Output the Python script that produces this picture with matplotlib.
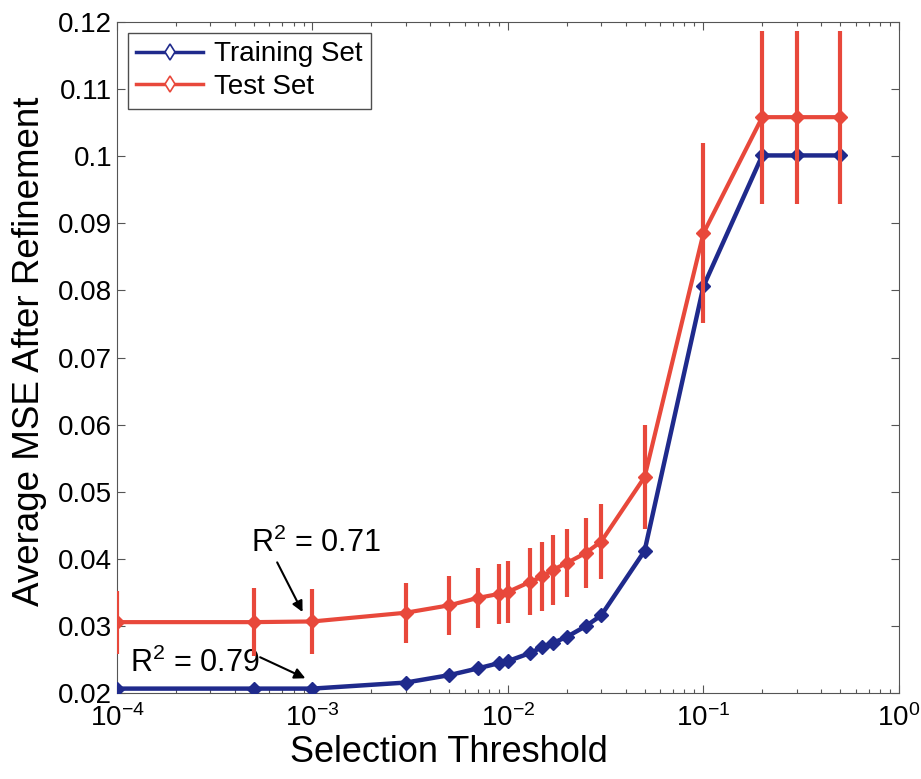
import matplotlib
matplotlib.use("Agg")
import matplotlib.pyplot as plt
from matplotlib.lines import Line2D
from matplotlib.ticker import FixedLocator, LogLocator, NullFormatter

plt.rcParams['font.family'] = ['Liberation Sans', 'DejaVu Sans']
plt.rcParams['mathtext.fontset'] = 'custom'
plt.rcParams['mathtext.rm'] = 'Liberation Sans'
plt.rcParams['mathtext.it'] = 'Liberation Sans'
plt.rcParams['axes.unicode_minus'] = False

thresholds = [1e-4, 5e-4, 1e-3, 3e-3, 5e-3, 7e-3, 9e-3, 1e-2, 1.3e-2, 1.5e-2,
              1.7e-2, 2e-2, 2.5e-2, 3e-2, 5e-2, 1e-1, 2e-1, 3e-1, 5e-1]

train_mse = [0.0207, 0.0207, 0.0207, 0.0216, 0.0227, 0.0237, 0.0245, 0.0248, 0.0260, 0.0269,
             0.0275, 0.0284, 0.0300, 0.0316, 0.0412, 0.0806, 0.1001, 0.1001, 0.1001]
train_err = [0.0004] * len(thresholds)

test_mse = [0.0306, 0.0306, 0.0307, 0.0320, 0.0331, 0.0342, 0.0348, 0.0351, 0.0366, 0.0374,
            0.0384, 0.0394, 0.0409, 0.0426, 0.0522, 0.0885, 0.1058, 0.1058, 0.1058]
test_err = [0.0047, 0.0051, 0.0049, 0.0045, 0.0044, 0.0045, 0.0045, 0.0046, 0.0050, 0.0052,
            0.0052, 0.0051, 0.0052, 0.0056, 0.0077, 0.0134, 0.0129, 0.0129, 0.0129]

y_ticks = [0.02, 0.03, 0.04, 0.05, 0.06, 0.07, 0.08, 0.09, 0.1, 0.11, 0.12]
y_labels = ['0.02', '0.03', '0.04', '0.05', '0.06', '0.07', '0.08', '0.09', '0.1', '0.11', '0.12']
x_ticks = [1e-4, 1e-3, 1e-2, 1e-1, 1e0]
x_labels = [r'$10^{\mathrm{-4}}$', r'$10^{\mathrm{-3}}$', r'$10^{\mathrm{-2}}$',
            r'$10^{\mathrm{-1}}$', r'$10^{0}$']

blue = '#1f2a8c'
red = '#e8483b'

fig = plt.figure(figsize=(9.21, 7.79), dpi=100)
ax = fig.add_axes([0.127, 0.110, 0.849, 0.862])

ax.errorbar(thresholds, train_mse, yerr=train_err, color=blue, lw=3.2, marker='D',
            ms=7.5, mfc=blue, mec=blue, elinewidth=2.5, capsize=0, zorder=3)
ax.errorbar(thresholds, test_mse, yerr=test_err, color=red, lw=3, marker='D',
            ms=7.5, mfc=red, mec=red, elinewidth=3, capsize=0, zorder=4)

ax.set_xscale('log')
ax.set_xlim(1e-4, 1e0)
ax.set_ylim(0.02, 0.12)
ax.xaxis.set_major_locator(FixedLocator(x_ticks))
ax.set_xticklabels(x_labels)
ax.xaxis.set_minor_locator(LogLocator(base=10, subs=range(2, 10)))
ax.xaxis.set_minor_formatter(NullFormatter())
ax.set_yticks(y_ticks)
ax.set_yticklabels(y_labels)

ax.tick_params(which='both', direction='in', top=True, right=True, labelsize=20, color='#555555')
ax.tick_params(which='major', length=6, width=0.8)
ax.tick_params(which='minor', length=3, width=0.8)
ax.tick_params(axis='x', pad=8)
for s in ax.spines.values():
    s.set_linewidth(0.8)
    s.set_color('#555555')

ax.set_xlabel('Selection Threshold', fontsize=26, labelpad=2)
ax.xaxis.set_label_coords(0.424, -0.062)
ax.set_ylabel('Average MSE After Refinement', fontsize=26.5, labelpad=8)
ax.yaxis.set_label_coords(-0.089, 0.51)

# R^2 notes with arrows pointing at the 1e-3 threshold points
ax.text(1.04e-3, 0.0424, r'R$^2$ = 0.71', fontsize=22, ha='center', va='center')
ax.annotate('', xy=(8.9e-4, 0.0321), xytext=(6.6e-4, 0.0395),
            arrowprops=dict(arrowstyle='-|>', color='black', lw=1.5, mutation_scale=16,
                            shrinkA=0, shrinkB=0))
ax.text(2.51e-4, 0.02447, r'R$^2$ = 0.79', fontsize=22, ha='center', va='center')
ax.annotate('', xy=(9.2e-4, 0.02224), xytext=(5.4e-4, 0.02537),
            arrowprops=dict(arrowstyle='-|>', color='black', lw=1.5, mutation_scale=16,
                            shrinkA=0, shrinkB=0))

handles = [Line2D([], [], color=blue, lw=2.5, marker='d', ms=8, mfc='white', mec=blue, mew=1.2),
           Line2D([], [], color=red, lw=2.5, marker='d', ms=8, mfc='white', mec=red, mew=1.2)]
leg = ax.legend(handles, ['Training Set', 'Test Set'], loc='upper left', fontsize=20,
                frameon=True, fancybox=False, edgecolor='#222222', handlelength=2.4,
                borderaxespad=0.4, handletextpad=0.4, labelspacing=0.25, borderpad=0.3)
leg.get_frame().set_linewidth(1.0)

fig.savefig('out.png', dpi=100, facecolor='white')
